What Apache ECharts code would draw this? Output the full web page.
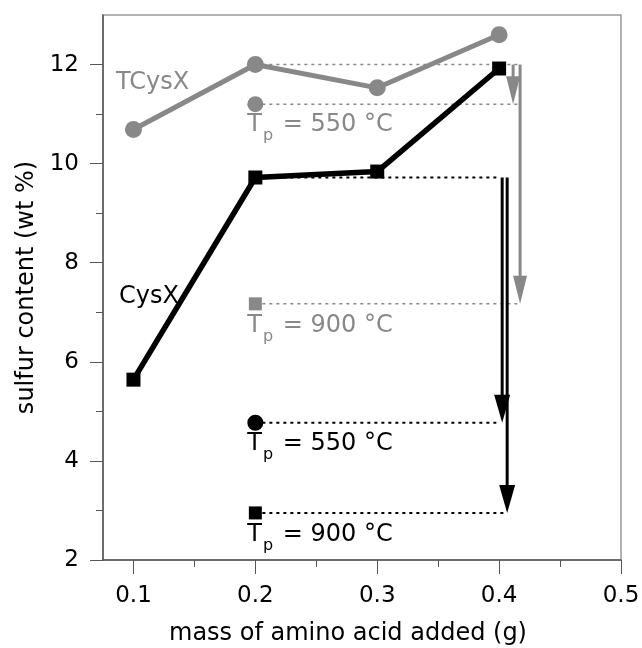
<!DOCTYPE html>
<html><head><meta charset="utf-8">
<script src="https://cdn.jsdelivr.net/npm/echarts@6/dist/echarts.min.js"></script>
<style>html,body{margin:0;padding:0;background:#fff}#c{width:642px;height:648px}</style>
</head><body><div id="c"></div>
<script>
// ---- data ----
const mass = [0.1, 0.2, 0.3, 0.4];
const tcysx = [10.69, 12.0, 11.53, 12.6];
const cysx = [5.64, 9.72, 9.84, 11.92];
// reference markers: [x, y, label]
const grayCircle = [0.2, 11.2, '550'];
const graySquare = [0.2, 7.17, '900'];
const blackCircle = [0.2, 4.77, '550'];
const blackSquare = [0.2, 2.95, '900'];
// dotted guides: [x1, x2, y]
const grayGuides = [[0.2, 0.4156, 12.0], [0.2, 0.4156, 11.2], [0.2, 0.4172, 7.17]];
const blackGuides = [[0.2, 0.4008, 9.72], [0.2, 0.4008, 4.77], [0.2, 0.4066, 2.95]];
// arrows: [x, yFrom, yTo]
const grayArrows = [[0.4115, 12.0, 11.2], [0.4172, 12.0, 7.17]];
const blackArrows = [[0.4025, 9.72, 4.77], [0.4066, 9.72, 2.95]];
// series name labels: [x, y, text]
const grayNameLabel = [0.0852, 11.63, 'TCysX'];
const blackNameLabel = [0.0877, 7.31, 'CysX'];
const xMajor = [0.1, 0.2, 0.3, 0.4, 0.5];
const xMinor = [0.15, 0.25, 0.35, 0.45];
const yMajor = [2, 4, 6, 8, 10, 12];
const yMinor = [3, 5, 7, 9, 11];

const GRAY = '#888888';
const BLACK = '#000000';
const FONT = 'DejaVu Sans';

const chart = echarts.init(document.getElementById('c'));

function guideSeries(data, color, w) {
  return {
    type: 'custom', data: data, silent: true, z: 1,
    renderItem: function (params, api) {
      const p1 = api.coord([api.value(0), api.value(2)]);
      const p2 = api.coord([api.value(1), api.value(2)]);
      return {type: 'line', shape: {x1: p1[0], y1: p1[1], x2: p2[0], y2: p2[1]},
        style: {stroke: color, lineWidth: w, lineDash: [3, 4]}};
    }
  };
}
function arrowSeries(data, color, w, L, W) {
  return {
    type: 'custom', data: data, silent: true, z: 2,
    renderItem: function (params, api) {
      const p1 = api.coord([api.value(0), api.value(1)]);
      const p2 = api.coord([api.value(0), api.value(2)]);
      return {type: 'group', children: [
        {type: 'line', shape: {x1: p1[0], y1: p1[1], x2: p2[0], y2: p2[1] - L + 2},
          style: {stroke: color, lineWidth: w}},
        {type: 'polygon', shape: {points: [[p2[0] - W / 2, p2[1] - L], [p2[0] + W / 2, p2[1] - L], [p2[0], p2[1]]]},
          style: {fill: color}}
      ]};
    }
  };
}
function tpLabel(color, dx, dy) {
  return {
    show: true, position: [dx, dy], align: 'left', verticalAlign: 'top',
    formatter: function (p) { return '{t|T}{s|p}{u| = ' + p.data[2] + ' °C}'; },
    rich: {
      t: {fontFamily: FONT, fontSize: 24, color: color, verticalAlign: 'top', lineHeight: 26},
      s: {fontFamily: FONT, fontSize: 16, color: color, verticalAlign: 'top', lineHeight: 26, padding: [15, 0, 0, 1]},
      u: {fontFamily: FONT, fontSize: 24, color: color, verticalAlign: 'top', lineHeight: 26, padding: [0, 0, 0, 2]}
    }
  };
}
function markerSeries(pt, symbol, size, color) {
  return {
    type: 'scatter', symbol: symbol, symbolSize: size, z: 5,
    itemStyle: {color: color, opacity: 1}, data: [pt],
    label: tpLabel(color, symbol === 'circle' ? 0 : -1.5, symbol === 'circle' ? 17 : 16)
  };
}
function nameSeries(pt, color) {
  return {
    type: 'scatter', symbol: 'circle', symbolSize: 1, z: 6, silent: true,
    itemStyle: {color: 'rgba(0,0,0,0)'},
    data: [pt],
    label: {show: true, position: 'right', distance: 0, align: 'left', verticalAlign: 'middle',
      fontFamily: FONT, fontSize: 24, color: color, opacity: 1,
      formatter: function (p) { return p.data[2]; }}
  };
}

const xBase = {type: 'value', min: 0.075, max: 0.5, gridIndex: 0, splitLine: {show: false}};
const yBase = {type: 'value', min: 2, max: 13, gridIndex: 0, splitLine: {show: false}};

chart.setOption({
  animation: false,
  grid: {left: 103, right: 21, top: 15, bottom: 88, containLabel: false, outerBoundsMode: 'none',
    show: true, borderColor: '#999', borderWidth: 1.5, backgroundColor: 'transparent'},
  xAxis: [
    Object.assign({}, xBase, {
      position: 'bottom',
      name: 'mass of amino acid added (g)', nameLocation: 'middle', nameGap: 62,
      nameTextStyle: {fontFamily: FONT, fontSize: 24, color: '#000', padding: [0, 28, 0, 0]},
      axisLine: {show: true, lineStyle: {color: '#555', width: 1.5}},
      axisTick: {show: true, inside: false, length: 14, customValues: xMajor, lineStyle: {color: '#555', width: 1}},
      axisLabel: {show: true, customValues: xMajor, margin: 25, fontFamily: FONT, fontSize: 23, color: '#000',
        formatter: function (v) { return v.toFixed(1); }}
    }),
    Object.assign({}, xBase, {
      position: 'bottom',
      axisLine: {show: false},
      axisTick: {show: true, inside: false, length: 7, customValues: xMinor, lineStyle: {color: '#555', width: 1}},
      axisLabel: {show: false}
    })
  ],
  yAxis: [
    Object.assign({}, yBase, {
      position: 'left',
      name: 'sulfur content (wt %)', nameLocation: 'middle', nameGap: 60,
      nameTextStyle: {fontFamily: FONT, fontSize: 24, color: '#000'},
      axisLine: {show: true, lineStyle: {color: '#555', width: 1.5}},
      axisTick: {show: true, inside: false, length: 13, customValues: yMajor, lineStyle: {color: '#555', width: 1}},
      axisLabel: {show: true, customValues: yMajor, margin: 24, fontFamily: FONT, fontSize: 23, color: '#000'}
    }),
    Object.assign({}, yBase, {
      position: 'left', offset: 0,
      axisLine: {show: false},
      axisTick: {show: true, inside: false, length: 7, customValues: yMinor, lineStyle: {color: '#555', width: 1}},
      axisLabel: {show: false}
    })
  ],
  series: [
    guideSeries(grayGuides, GRAY, 1.5),
    guideSeries(blackGuides, BLACK, 2),
    arrowSeries(grayArrows, GRAY, 3, 28, 14),
    arrowSeries(blackArrows, BLACK, 3, 28, 16),
    {
      name: 'TCysX', type: 'line', z: 3,
      data: mass.map((m, i) => [m, tcysx[i]]),
      symbol: 'circle', symbolSize: 17,
      lineStyle: {color: GRAY, width: 5}, itemStyle: {color: GRAY, opacity: 1}
    },
    {
      name: 'CysX', type: 'line', z: 4,
      data: mass.map((m, i) => [m, cysx[i]]),
      symbol: 'rect', symbolSize: 14,
      lineStyle: {color: BLACK, width: 5.5}, itemStyle: {color: BLACK, opacity: 1}
    },
    markerSeries(grayCircle, 'circle', 16, GRAY),
    markerSeries(graySquare, 'rect', 13, GRAY),
    markerSeries(blackCircle, 'circle', 16, BLACK),
    markerSeries(blackSquare, 'rect', 13, BLACK),
    nameSeries(grayNameLabel, GRAY),
    nameSeries(blackNameLabel, BLACK)
  ]
});
</script></body></html>
